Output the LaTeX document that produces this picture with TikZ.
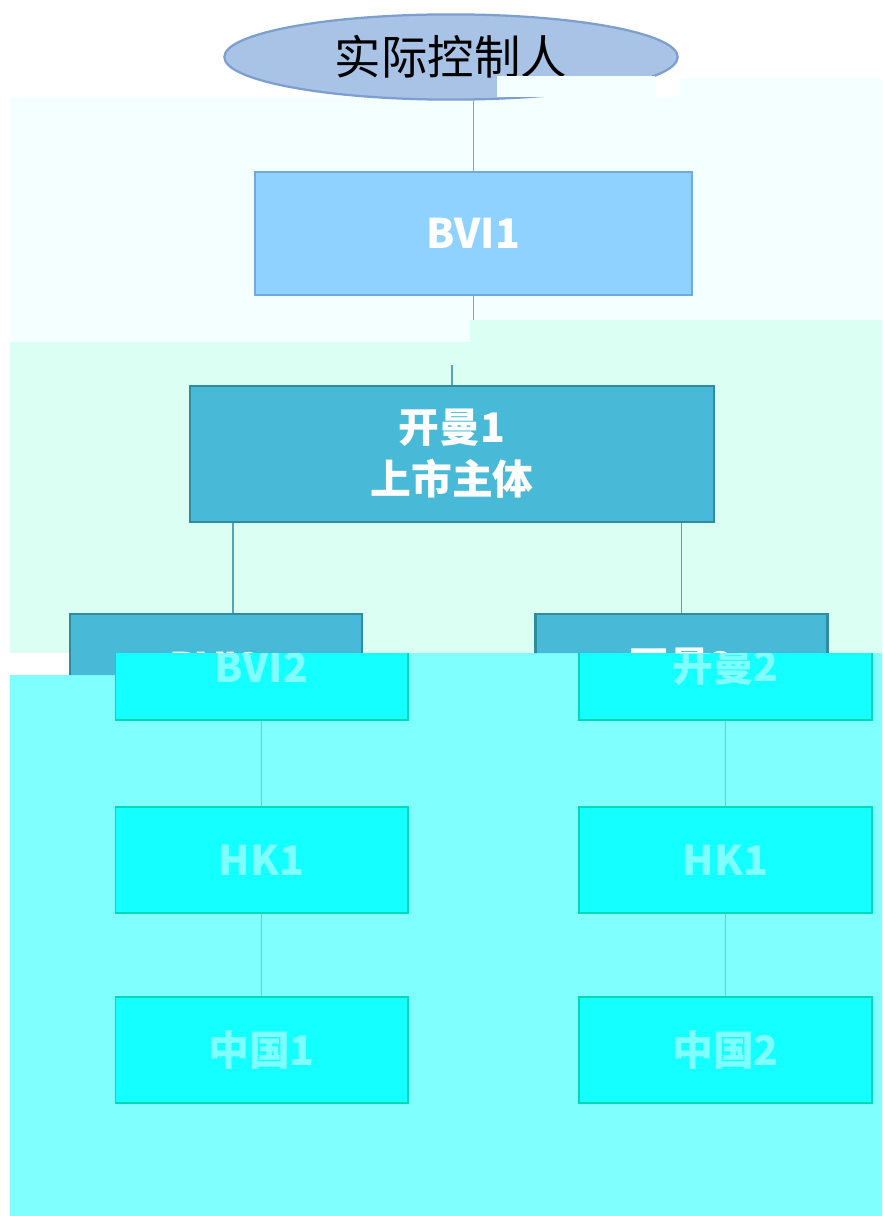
\documentclass[tikz,border=0pt]{standalone}
\usepackage{fontspec}
\usepackage{xcolor}
\newfontfamily\cjk{Noto Sans CJK SC}
\usetikzlibrary{shapes.geometric, positioning, calc}

\definecolor{palebg}{HTML}{F4FFFF}
\definecolor{mintbg}{HTML}{DCFFF3}
\definecolor{cyanbg}{HTML}{80FFFF}
\definecolor{ctrlfill}{HTML}{A8C3E6}
\definecolor{ctrledge}{HTML}{7D9FCF}
\definecolor{bvifill}{HTML}{90D2FF}
\definecolor{bviedge}{HTML}{6FA9DD}
\definecolor{tealfill}{HTML}{48B9D6}
\definecolor{tealedge}{HTML}{2D8C9E}
\definecolor{cyanfill}{HTML}{14FFFF}
\definecolor{cyanedge}{HTML}{00D9B4}
\definecolor{cyanline}{HTML}{30EBDC}

\begin{document}
\begin{tikzpicture}[x=0.025cm, y=-0.025cm,
  topline/.style={draw=bviedge, line width=1.4pt},
  tealline/.style={draw=tealedge!80, line width=1.4pt},
  cyanlink/.style={draw=cyanline, line width=1.4pt},
  box/.style={rectangle, line width=1.6pt, align=center, inner sep=0pt,
    font=\cjk\bfseries\fontsize{29}{37}\selectfont},
  lowbox/.style={box, fill=cyanfill, draw=cyanedge, text=cyanbg,
    minimum width=7.33cm, minimum height=2.65cm}]
\useasboundingbox (0,0) rectangle (882,1216);

% background bands
\fill[white] (0,0) rectangle (882,1216);
\fill[palebg] (10,97) rectangle (882,342);
\fill[palebg] (680,78) rectangle (882,97);
\fill[mintbg] (10,342) rectangle (882,653);
\fill[mintbg] (470,320) rectangle (882,342);
\fill[cyanbg] (115,653) rectangle (882,1216);
\fill[cyanbg] (10,675) rectangle (115,1216);

% top of the tree
\node[ellipse, fill=ctrlfill, draw=ctrledge, line width=1.6pt, minimum width=11.33cm, minimum height=2.13cm, inner sep=0pt, font=\cjk\fontsize{33}{40}\selectfont] (ctrl) at (451,57) {\raisebox{-3pt}{实际控制人}};
\fill[palebg] (497,76) rectangle (655,97);
\node[box, fill=bvifill, draw=bviedge, text=white, minimum width=10.93cm, minimum height=3.08cm] (bvi1) at (473.5,233.5) {BVI1};
\node[box, fill=tealfill, draw=tealedge, text=white, minimum width=13.1cm, minimum height=3.4cm] (kaiman1) at (452,454) {开曼1\\上市主体};

\coordinate (cut1) at (473.5,320);
\coordinate (cut2) at (452,365);
\draw[topline] (ctrl.south -| bvi1.north) -- (bvi1.north);
\draw[topline] (bvi1.south) -- (cut1);
\draw[tealline] (kaiman1.south |- cut2) -- (kaiman1.north);

% second level, upper part
\begin{scope}
\clip (0,0) rectangle (882,653) (0,653) rectangle (115,675);
\node[box, fill=tealfill, draw=tealedge, text=white, minimum width=7.3cm, minimum height=2.65cm] (bvi2) at (216,667) {BVI2};
\node[box, fill=tealfill, draw=tealedge, text=white, minimum width=7.3cm, minimum height=2.65cm] (kaiman2) at (681.5,667) {开曼2};
\draw[tealline] ($(bvi2.north)+(17,0)$) -- ($(bvi2.north |- kaiman1.south)+(17,0)$);
\draw[tealline] (kaiman2.north) -- (kaiman2.north |- kaiman1.south);
\end{scope}

% lower part
\begin{scope}
\clip (115,653) rectangle (882,1216);
\node[lowbox] (bvi2low) at (261.5,667) {BVI2};
\node[lowbox] (kaiman2low) at (725.5,667) {开曼2};
\node[lowbox] (hkleft) at (261.5,860) {HK1};
\node[lowbox] (hkright) at (725.5,860) {HK1};
\node[lowbox] (china1) at (261.5,1050) {中国1};
\node[lowbox] (china2) at (725.5,1050) {中国2};
\draw[cyanlink] (bvi2low) -- (hkleft);
\draw[cyanlink] (hkleft) -- (china1);
\draw[cyanlink] (kaiman2low) -- (hkright);
\draw[cyanlink] (hkright) -- (china2);
\end{scope}
\end{tikzpicture}
\end{document}
